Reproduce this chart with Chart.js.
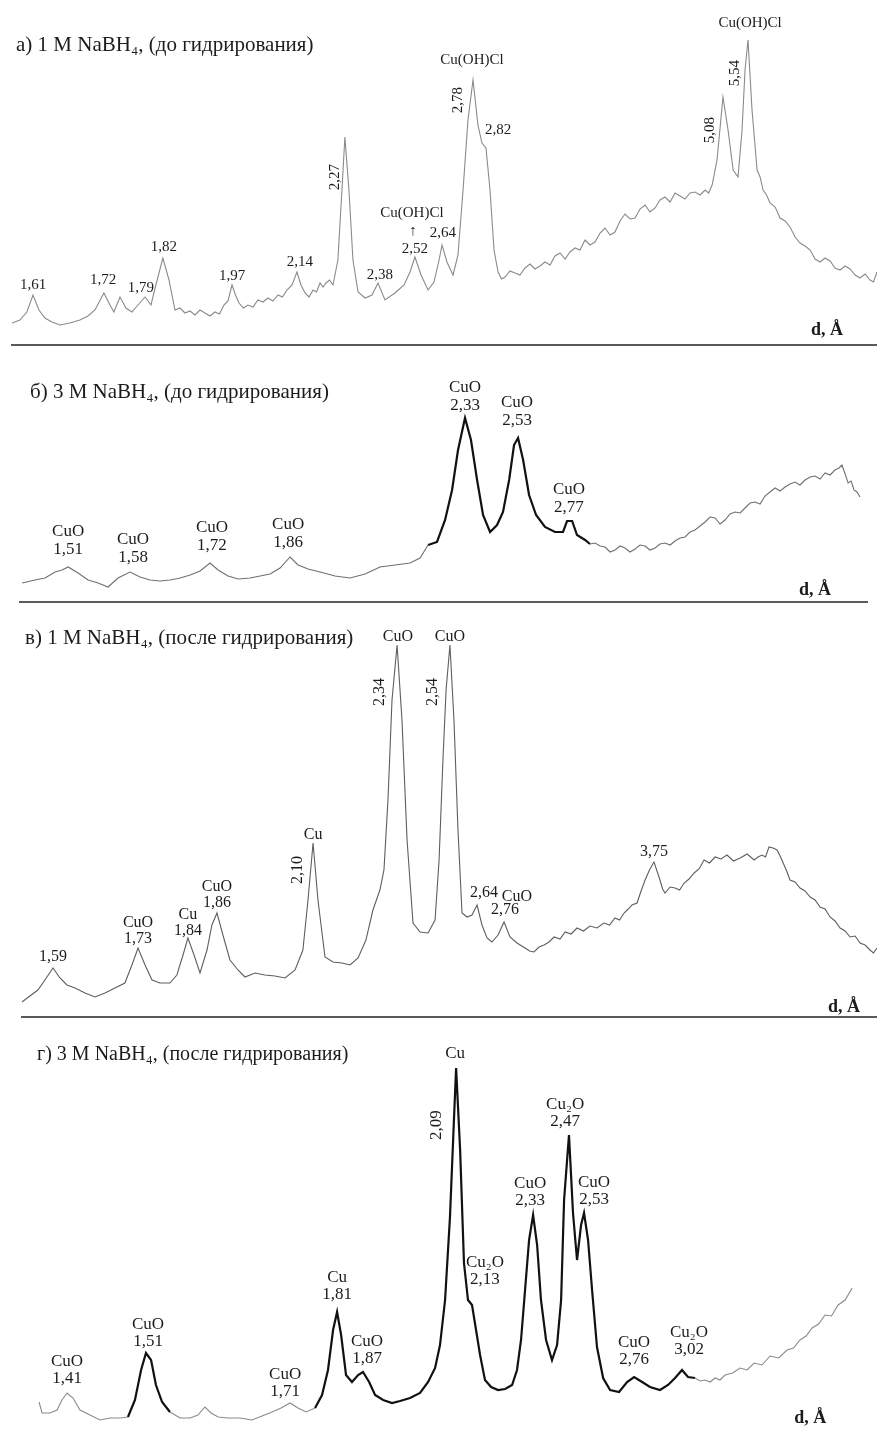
<!DOCTYPE html>
<html lang="ru">
<head>
<meta charset="utf-8">
<title>XRD patterns</title>
<script src="https://cdn.jsdelivr.net/npm/chart.js@4.4.1/dist/chart.umd.min.js"></script>
<style>
  html, body { margin: 0; padding: 0; background: #fff; }
  #page { position: relative; width: 877px; height: 1430px; overflow: hidden; }
  #page canvas { position: absolute; left: 0; }
</style>
</head>
<body>
<div id="page">
  <canvas id="chartA" width="877" height="350" style="top:0"></canvas>
  <canvas id="chartB" width="877" height="255" style="top:350px"></canvas>
  <canvas id="chartC" width="877" height="410" style="top:610px"></canvas>
  <canvas id="chartD" width="877" height="405" style="top:1025px"></canvas>
</div>
<script>
// scans: [2θ, intensity (a.u.)]; 2θ axis runs right-to-left (d grows to the right)
const scanA = [
  [58.31,22],[57.86,25],[57.46,33],[57.11,50],[56.77,35],[56.43,27],[56.03,23],[55.57,20],[55.0,22],[54.43,25],
  [53.97,29],[53.57,35],[53.06,52],[52.71,40],[52.49,33],[52.14,48],[51.8,37],[51.46,33],[51.11,40],[50.71,48],
  [50.37,40],[50.09,60],[49.69,87],[49.34,65],[49.0,35],[48.71,37],[48.43,32],[48.14,34],[47.86,30],[47.57,35],
  [47.29,32],[47.0,29],[46.71,33],[46.46,31],[46.2,40],[45.97,44],[45.74,60],[45.54,50],[45.34,42],[45.09,37],
  [44.83,40],[44.54,38],[44.26,45],[43.97,43],[43.69,47],[43.4,44],[43.11,50],[42.86,48],[42.6,55],[42.31,60],
  [42.03,73],[41.8,60],[41.57,52],[41.34,48],[41.11,55],[40.91,53],[40.71,62],[40.54,58],[40.37,62],[40.17,65],
  [39.97,60],[39.69,85],[39.46,155],[39.29,208],[39.06,155],[38.83,85],[38.54,53],[38.14,47],
  [37.74,50],[37.4,62],[37.0,45],[36.43,52],[35.91,60],[35.57,73],[35.29,88],[34.94,70],[34.54,55],[34.2,63],
  [33.91,85],[33.74,100],[33.46,83],[33.11,70],[32.83,90],[32.54,155],[32.26,225],[31.97,265],[31.69,220],[31.46,202],
  [31.23,197],[31.0,155],[30.77,95],[30.54,73],[30.34,66],[30.14,68],[29.86,74],[29.57,72],[29.29,70],[29.0,77],
  [28.71,81],[28.43,76],[28.14,79],[27.86,83],[27.57,80],[27.29,89],[27.0,92],[26.71,86],[26.43,93],[26.14,97],
  [25.86,95],[25.57,105],[25.29,100],[25.0,103],[24.71,112],[24.43,117],[24.14,110],[23.86,113],[23.57,124],[23.29,131],
  [23.0,126],[22.71,127],[22.43,136],[22.14,140],[21.86,133],[21.57,137],[21.29,145],[21.0,148],[20.71,143],[20.43,152],
  [20.14,149],[19.86,146],[19.57,152],[19.29,153],[19.0,150],[18.71,155],[18.51,152],[18.31,160],[18.03,185],[17.69,248],
  [17.4,215],[17.11,175],[16.83,168],[16.6,215],[16.43,275],[16.26,305],[16.03,235],[15.74,175],[15.57,168],[15.4,155],
  [15.2,150],[15.0,142],[14.71,138],[14.43,127],[14.14,124],[13.86,118],[13.57,108],[13.29,102],[13.0,99],[12.71,95],
  [12.43,86],[12.14,83],[11.86,87],[11.57,84],[11.29,77],[11.0,75],[10.71,79],[10.43,76],[10.14,70],[9.86,67],
  [9.57,71],[9.29,65],[9.09,63],[8.89,73]
];
const scanB = [
  [63.74,19],[63.0,22],[62.43,24],[61.86,30],[61.46,32],[61.11,35],[60.54,29],[59.97,22],[59.4,19],[58.83,15],
  [58.26,24],[57.57,30],[57.0,25],[56.43,22],[55.86,21],[55.29,22],[54.71,24],[54.14,27],[53.57,31],[53.0,39],
  [52.54,32],[51.97,26],[51.4,23],[50.71,24],[50.14,26],[49.57,28],[49.0,34],[48.43,45],[47.97,37],[47.4,33],
  [46.71,30],[45.86,26],[45.0,24],[44.14,28],[43.29,35],[42.43,37],[41.57,39],[41.0,44],[40.54,57],[40.03,60],
  [39.57,82],[39.17,112],[38.83,152],[38.43,184],[38.09,162],[37.74,122],[37.4,87],[37.0,70],[36.6,77],[36.26,90],
  [35.91,122],[35.63,157],[35.4,164],[35.11,142],[34.77,107],[34.37,87],[33.86,75],[33.29,70],[32.83,70],[32.6,81],
  [32.31,81],[32.03,67],[31.57,62],[31.29,58],[31.0,59],[30.71,56],[30.43,55],[30.14,50],[29.86,52],[29.57,56],
  [29.29,54],[29.0,50],[28.71,53],[28.43,57],[28.14,56],[27.86,52],[27.57,54],[27.29,58],[27.0,59],[26.71,57],
  [26.43,61],[26.14,64],[25.86,65],[25.57,70],[25.29,72],[25.0,76],[24.71,80],[24.43,85],[24.14,84],[23.86,78],
  [23.57,82],[23.29,88],[23.0,90],[22.71,89],[22.43,94],[22.14,99],[21.86,100],[21.57,98],[21.29,106],[21.0,110],
  [20.71,114],[20.43,111],[20.14,115],[19.86,118],[19.57,120],[19.29,117],[19.0,122],[18.71,125],[18.43,126],[18.14,123],
  [17.86,129],[17.57,127],[17.29,132],[17.06,134],[16.89,137],[16.71,128],[16.54,119],[16.37,121],[16.2,112],[16.03,110],
  [15.86,105]
];
const scanC = [
  [59.74,15],[59.29,21],[58.83,27],[58.43,37],[57.97,49],[57.57,39],[57.17,32],[56.71,29],[56.14,24],[55.57,20],
  [55.0,24],[54.43,29],[53.86,34],[53.46,52],[53.11,69],[52.71,52],[52.31,37],[51.86,34],[51.29,34],[50.89,42],
  [50.54,62],[50.26,79],[49.91,62],[49.57,44],[49.17,67],[48.89,92],[48.6,104],[48.26,82],[47.86,57],[47.4,47],
  [47.0,40],[46.43,44],[45.86,42],[45.29,41],[44.71,39],[44.14,47],[43.69,67],[43.4,117],[43.11,174],[42.83,117],
  [42.43,60],[41.97,55],[41.46,54],[41.0,52],[40.54,59],[40.09,77],[39.69,107],[39.29,127],[39.06,147],[38.83,217],
  [38.6,317],[38.31,372],[38.03,297],[37.74,177],[37.4,94],[37.0,85],[36.54,84],[36.14,97],[35.91,157],[35.69,257],
  [35.51,327],[35.29,372],[35.06,297],[34.83,187],[34.6,104],[34.31,100],[34.03,102],[33.74,112],[33.46,92],[33.17,79],
  [32.89,75],[32.54,82],[32.2,95],[31.86,80],[31.46,74],[31.0,69],[30.74,66],[30.49,65],[30.2,70],[29.91,72],
  [29.63,75],[29.34,80],[29.0,78],[28.71,85],[28.37,83],[28.03,89],[27.66,86],[27.29,91],[26.89,89],[26.49,94],
  [26.17,92],[25.86,99],[25.6,97],[25.34,104],[25.1,108],[24.89,112],[24.6,114],[24.37,126],[24.14,137],[23.89,147],
  [23.63,155],[23.46,146],[23.29,137],[23.14,128],[23.0,124],[22.71,130],[22.43,129],[22.17,127],[21.91,134],[21.63,138],
  [21.34,144],[21.06,148],[20.77,157],[20.46,154],[20.14,160],[19.8,158],[19.46,162],[19.09,156],[18.71,159],[18.31,163],
  [17.91,157],[17.69,160],[17.46,162],[17.26,160],[17.06,170],[16.83,169],[16.6,167],[16.4,160],[16.2,152],[16.03,145],
  [15.86,137],[15.57,135],[15.29,129],[15.0,126],[14.71,120],[14.43,117],[14.14,110],[13.86,108],[13.57,100],[13.29,96],
  [13.0,89],[12.71,86],[12.43,80],[12.14,81],[11.86,74],[11.57,72],[11.29,67],[11.09,64],[10.89,69]
];
const scanD = [
  [67.27,26],[67.1,15],[66.64,15],[66.24,18],[65.96,28],[65.67,35],[65.33,30],[64.93,18],[64.36,13],[63.79,8],
  [63.21,10],[62.64,10],[62.19,11],[61.79,28],[61.44,58],[61.16,75],[60.87,68],[60.59,43],[60.24,26],[59.79,16],
  [59.21,10],[58.64,10],[58.19,13],[57.79,21],[57.44,15],[57.04,11],[56.47,10],[55.79,10],[55.1,8],[54.53,12],
  [53.96,16],[53.44,20],[52.93,25],[52.47,20],[52.01,16],[51.5,20],[51.1,33],[50.76,58],[50.47,98],[50.24,116],
  [50.01,93],[49.73,53],[49.39,46],[49.04,53],[48.76,56],[48.41,46],[48.07,33],[47.61,28],[47.1,25],[46.64,27],
  [46.07,30],[45.5,35],[45.04,46],[44.64,60],[44.36,83],[44.07,128],[43.79,211],[43.61,288],[43.44,360],[43.21,278],
  [42.99,165],[42.76,128],[42.53,123],[42.3,98],[42.07,73],[41.79,48],[41.44,41],[41.04,38],[40.64,39],[40.24,43],
  [39.96,58],[39.73,88],[39.5,138],[39.27,188],[39.04,213],[38.81,183],[38.59,128],[38.3,88],[37.96,68],[37.67,83],
  [37.44,128],[37.27,228],[36.99,293],[36.76,215],[36.53,168],[36.3,203],[36.13,215],[35.9,188],[35.67,138],[35.39,81],
  [35.04,50],[34.64,38],[34.13,36],[33.67,46],[33.27,51],[32.81,46],[32.36,41],[31.79,38],[31.33,43],[30.93,50],
  [30.53,58],[30.19,51],[29.79,50],[29.5,47],[29.21,48],[28.93,46],[28.64,50],[28.36,48],[28.07,53],[27.64,55],
  [27.21,60],[26.81,58],[26.41,65],[25.96,63],[25.5,72],[25.01,70],[24.53,78],[24.16,80],[23.79,88],[23.44,92],
  [23.1,100],[22.73,104],[22.36,113],[21.99,112],[21.61,123],[21.21,128],[20.81,140]
];

// peak annotations: [2θ, intensity, text, rotated?]
const peaksA = [
  [57.11,60,"1,61"],[53.11,65,"1,72"],[50.94,57,"1,79"],[49.63,98,"1,82"],[45.74,69,"1,97"],
  [41.86,83,"2,14"],[39.86,168,"2,27",true],[37.29,70,"2,38"],[35.29,96,"2,52"],[35.4,114,"↑"],
  [35.46,132,"Cu(OH)Cl"],[33.69,112,"2,64"],[32.83,245,"2,78",true],[32.03,285,"Cu(OH)Cl"],[30.54,215,"2,82"],
  [18.43,215,"5,08",true],[17.0,272,"5,54",true],[16.14,322,"Cu(OH)Cl"]
];
const peaksB = [
  [61.11,70,"CuO\n1,51"],[57.4,62,"CuO\n1,58"],[52.89,74,"CuO\n1,72"],[48.54,77,"CuO\n1,86"],
  [38.43,214,"CuO\n2,33"],[35.46,199,"CuO\n2,53"],[32.49,112,"CuO\n2,77"]
];
const peaksC = [
  [57.97,60,"1,59"],[53.11,94,"CuO\n1,73"],[50.26,102,"Cu\n1,84"],[48.6,130,"CuO\n1,86"],
  [43.11,182,"Cu"],[43.97,147,"2,10",true],[38.26,380,"CuO"],[39.29,325,"2,34",true],
  [35.29,380,"CuO"],[36.26,325,"2,54",true],[33.34,124,"2,64"],[31.46,120,"CuO"],[32.14,107,"2,76"],
  [23.63,165,"3,75"]
];
const peaksD = [
  [65.67,66,"CuO\n1,41"],[61.04,103,"CuO\n1,51"],[53.21,53,"CuO\n1,71"],[50.24,150,"Cu\n1,81"],
  [48.53,86,"CuO\n1,87"],[43.5,374,"Cu"],[44.53,303,"2,09",true],[41.79,165,"Cu₂O\n2,13"],
  [39.21,244,"CuO\n2,33"],[37.21,323,"Cu₂O\n2,47"],[35.56,245,"CuO\n2,53"],[33.27,85,"CuO\n2,76"],
  [30.13,95,"Cu₂O\n3,02"]
];

const SERIF = '"Liberation Serif", "Times New Roman", serif';

function panelText(cfg) {
  return {
    id: "panelText",
    afterDraw(chart) {
      const { ctx } = chart;
      const xs = chart.scales.x;
      const ys = chart.scales.y;
      ctx.save();
      ctx.fillStyle = "#1c1c1c";
      ctx.textBaseline = "middle";

      ctx.textAlign = "left";
      ctx.font = `${cfg.titleSize}px ${SERIF}`;
      ctx.fillText(cfg.title, cfg.titlePos[0], cfg.titlePos[1]);

      ctx.textAlign = "center";
      ctx.font = `${cfg.labelSize}px ${SERIF}`;
      for (const [x, y, text, rotated] of cfg.peaks) {
        const px = xs.getPixelForValue(x);
        const py = ys.getPixelForValue(y);
        if (rotated) {
          ctx.save();
          ctx.translate(px, py);
          ctx.rotate(-Math.PI / 2);
          ctx.fillText(text, 0, 0);
          ctx.restore();
        } else {
          text.split("\n").forEach((line, i) => ctx.fillText(line, px, py + i * cfg.lineHeight));
        }
      }

      ctx.font = `bold 18px ${SERIF}`;
      ctx.fillText("d, Å", xs.getPixelForValue(cfg.axisName[0]), ys.getPixelForValue(cfg.axisName[1]));
      ctx.restore();
    },
  };
}

function inRanges(x, ranges) {
  return ranges.some(([lo, hi]) => x >= lo && x <= hi);
}

function makePanel(id, cfg) {
  const bold = cfg.bold || [];
  return new Chart(document.getElementById(id), {
    type: "line",
    data: {
      datasets: [
        {
          data: cfg.scan.map(([x, y]) => ({ x, y })),
          borderColor: cfg.color,
          borderWidth: cfg.width,
          pointRadius: 0,
          tension: 0,
          segment: {
            borderColor: (c) => (inRanges((c.p0.parsed.x + c.p1.parsed.x) / 2, bold) ? "#111" : cfg.color),
            borderWidth: (c) => (inRanges((c.p0.parsed.x + c.p1.parsed.x) / 2, bold) ? 2.2 : cfg.width),
          },
        },
      ],
    },
    options: {
      responsive: false,
      animation: false,
      events: [],
      layout: { padding: cfg.padding },
      plugins: { legend: { display: false }, tooltip: { enabled: false } },
      scales: {
        x: {
          type: "linear",
          reverse: true,
          min: cfg.xRange[0],
          max: cfg.xRange[1],
          ticks: { display: false },
          grid: { display: false, drawTicks: false },
          border: { display: cfg.rule, color: "#5a5a5a", width: 2 },
        },
        y: { display: false, min: 0, max: cfg.yMax },
      },
    },
    plugins: [panelText(cfg)],
  });
}

makePanel("chartA", {
  scan: scanA, peaks: peaksA, color: "#8a8a8a", width: 1.1,
  xRange: [8.89, 58.31], yMax: 335, rule: true,
  padding: { left: 12, right: 0, top: 10, bottom: 5 },
  title: "а) 1 M NaBH₄, (до гидрирования)", titlePos: [16, 45], titleSize: 21,
  labelSize: 15, lineHeight: 16, axisName: [11.74, 15],
});
makePanel("chartB", {
  scan: scanB, peaks: peaksB, color: "#707070", width: 1.1, bold: [[31.29, 40.54]],
  xRange: [15.46, 63.86], yMax: 242, rule: true,
  padding: { left: 20, right: 10, top: 10, bottom: 3 },
  title: "б) 3 M NaBH₄, (до гидрирования)", titlePos: [30, 42], titleSize: 21,
  labelSize: 17, lineHeight: 18, axisName: [18.43, 12],
});
makePanel("chartC", {
  scan: scanC, peaks: peaksC, color: "#5e5e5e", width: 1.1,
  xRange: [10.89, 59.74], yMax: 397, rule: true,
  padding: { left: 22, right: 0, top: 10, bottom: 3 },
  title: "в) 1 M NaBH₄, (после гидрирования)", titlePos: [25, 28], titleSize: 21,
  labelSize: 16, lineHeight: 16, axisName: [12.77, 10],
});
makePanel("chartD", {
  scan: scanD, peaks: peaksD, color: "#8a8a8a", width: 1.1, bold: [[59.79, 62.19], [29.79, 51.5]],
  xRange: [19.39, 67.33], yMax: 393, rule: false,
  padding: { left: 38, right: 0, top: 10, bottom: 2 },
  title: "г) 3 M NaBH₄, (после гидрирования)", titlePos: [37, 30], titleSize: 20,
  labelSize: 17, lineHeight: 17, axisName: [23.21, 10],
});
</script>
</body>
</html>
